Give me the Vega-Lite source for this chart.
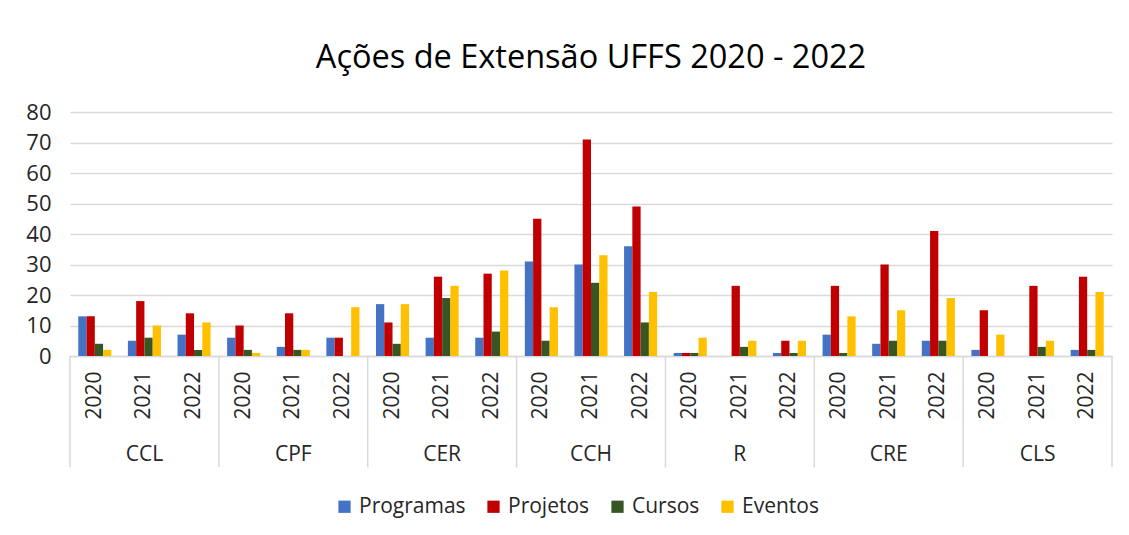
{
  "$schema": "https://vega.github.io/schema/vega-lite/v6.json",
  "padding": {"left": 25, "top": 41, "right": 10, "bottom": 5},
  "background": "#ffffff",
  "width": 1042,
  "height": 244,
  "data": {"values": [
    {"campus": "CCL", "ano": "2020", "serie": "Programas", "valor": 13},
    {"campus": "CCL", "ano": "2020", "serie": "Projetos", "valor": 13},
    {"campus": "CCL", "ano": "2020", "serie": "Cursos", "valor": 4},
    {"campus": "CCL", "ano": "2020", "serie": "Eventos", "valor": 2},
    {"campus": "CCL", "ano": "2021", "serie": "Programas", "valor": 5},
    {"campus": "CCL", "ano": "2021", "serie": "Projetos", "valor": 18},
    {"campus": "CCL", "ano": "2021", "serie": "Cursos", "valor": 6},
    {"campus": "CCL", "ano": "2021", "serie": "Eventos", "valor": 10},
    {"campus": "CCL", "ano": "2022", "serie": "Programas", "valor": 7},
    {"campus": "CCL", "ano": "2022", "serie": "Projetos", "valor": 14},
    {"campus": "CCL", "ano": "2022", "serie": "Cursos", "valor": 2},
    {"campus": "CCL", "ano": "2022", "serie": "Eventos", "valor": 11},
    {"campus": "CPF", "ano": "2020", "serie": "Programas", "valor": 6},
    {"campus": "CPF", "ano": "2020", "serie": "Projetos", "valor": 10},
    {"campus": "CPF", "ano": "2020", "serie": "Cursos", "valor": 2},
    {"campus": "CPF", "ano": "2020", "serie": "Eventos", "valor": 1},
    {"campus": "CPF", "ano": "2021", "serie": "Programas", "valor": 3},
    {"campus": "CPF", "ano": "2021", "serie": "Projetos", "valor": 14},
    {"campus": "CPF", "ano": "2021", "serie": "Cursos", "valor": 2},
    {"campus": "CPF", "ano": "2021", "serie": "Eventos", "valor": 2},
    {"campus": "CPF", "ano": "2022", "serie": "Programas", "valor": 6},
    {"campus": "CPF", "ano": "2022", "serie": "Projetos", "valor": 6},
    {"campus": "CPF", "ano": "2022", "serie": "Cursos", "valor": 0},
    {"campus": "CPF", "ano": "2022", "serie": "Eventos", "valor": 16},
    {"campus": "CER", "ano": "2020", "serie": "Programas", "valor": 17},
    {"campus": "CER", "ano": "2020", "serie": "Projetos", "valor": 11},
    {"campus": "CER", "ano": "2020", "serie": "Cursos", "valor": 4},
    {"campus": "CER", "ano": "2020", "serie": "Eventos", "valor": 17},
    {"campus": "CER", "ano": "2021", "serie": "Programas", "valor": 6},
    {"campus": "CER", "ano": "2021", "serie": "Projetos", "valor": 26},
    {"campus": "CER", "ano": "2021", "serie": "Cursos", "valor": 19},
    {"campus": "CER", "ano": "2021", "serie": "Eventos", "valor": 23},
    {"campus": "CER", "ano": "2022", "serie": "Programas", "valor": 6},
    {"campus": "CER", "ano": "2022", "serie": "Projetos", "valor": 27},
    {"campus": "CER", "ano": "2022", "serie": "Cursos", "valor": 8},
    {"campus": "CER", "ano": "2022", "serie": "Eventos", "valor": 28},
    {"campus": "CCH", "ano": "2020", "serie": "Programas", "valor": 31},
    {"campus": "CCH", "ano": "2020", "serie": "Projetos", "valor": 45},
    {"campus": "CCH", "ano": "2020", "serie": "Cursos", "valor": 5},
    {"campus": "CCH", "ano": "2020", "serie": "Eventos", "valor": 16},
    {"campus": "CCH", "ano": "2021", "serie": "Programas", "valor": 30},
    {"campus": "CCH", "ano": "2021", "serie": "Projetos", "valor": 71},
    {"campus": "CCH", "ano": "2021", "serie": "Cursos", "valor": 24},
    {"campus": "CCH", "ano": "2021", "serie": "Eventos", "valor": 33},
    {"campus": "CCH", "ano": "2022", "serie": "Programas", "valor": 36},
    {"campus": "CCH", "ano": "2022", "serie": "Projetos", "valor": 49},
    {"campus": "CCH", "ano": "2022", "serie": "Cursos", "valor": 11},
    {"campus": "CCH", "ano": "2022", "serie": "Eventos", "valor": 21},
    {"campus": "R", "ano": "2020", "serie": "Programas", "valor": 1},
    {"campus": "R", "ano": "2020", "serie": "Projetos", "valor": 1},
    {"campus": "R", "ano": "2020", "serie": "Cursos", "valor": 1},
    {"campus": "R", "ano": "2020", "serie": "Eventos", "valor": 6},
    {"campus": "R", "ano": "2021", "serie": "Programas", "valor": 0},
    {"campus": "R", "ano": "2021", "serie": "Projetos", "valor": 23},
    {"campus": "R", "ano": "2021", "serie": "Cursos", "valor": 3},
    {"campus": "R", "ano": "2021", "serie": "Eventos", "valor": 5},
    {"campus": "R", "ano": "2022", "serie": "Programas", "valor": 1},
    {"campus": "R", "ano": "2022", "serie": "Projetos", "valor": 5},
    {"campus": "R", "ano": "2022", "serie": "Cursos", "valor": 1},
    {"campus": "R", "ano": "2022", "serie": "Eventos", "valor": 5},
    {"campus": "CRE", "ano": "2020", "serie": "Programas", "valor": 7},
    {"campus": "CRE", "ano": "2020", "serie": "Projetos", "valor": 23},
    {"campus": "CRE", "ano": "2020", "serie": "Cursos", "valor": 1},
    {"campus": "CRE", "ano": "2020", "serie": "Eventos", "valor": 13},
    {"campus": "CRE", "ano": "2021", "serie": "Programas", "valor": 4},
    {"campus": "CRE", "ano": "2021", "serie": "Projetos", "valor": 30},
    {"campus": "CRE", "ano": "2021", "serie": "Cursos", "valor": 5},
    {"campus": "CRE", "ano": "2021", "serie": "Eventos", "valor": 15},
    {"campus": "CRE", "ano": "2022", "serie": "Programas", "valor": 5},
    {"campus": "CRE", "ano": "2022", "serie": "Projetos", "valor": 41},
    {"campus": "CRE", "ano": "2022", "serie": "Cursos", "valor": 5},
    {"campus": "CRE", "ano": "2022", "serie": "Eventos", "valor": 19},
    {"campus": "CLS", "ano": "2020", "serie": "Programas", "valor": 2},
    {"campus": "CLS", "ano": "2020", "serie": "Projetos", "valor": 15},
    {"campus": "CLS", "ano": "2020", "serie": "Cursos", "valor": 0},
    {"campus": "CLS", "ano": "2020", "serie": "Eventos", "valor": 7},
    {"campus": "CLS", "ano": "2021", "serie": "Programas", "valor": 0},
    {"campus": "CLS", "ano": "2021", "serie": "Projetos", "valor": 23},
    {"campus": "CLS", "ano": "2021", "serie": "Cursos", "valor": 3},
    {"campus": "CLS", "ano": "2021", "serie": "Eventos", "valor": 5},
    {"campus": "CLS", "ano": "2022", "serie": "Programas", "valor": 2},
    {"campus": "CLS", "ano": "2022", "serie": "Projetos", "valor": 26},
    {"campus": "CLS", "ano": "2022", "serie": "Cursos", "valor": 2},
    {"campus": "CLS", "ano": "2022", "serie": "Eventos", "valor": 21}
  ]},
  "transform": [{"calculate": "datum.campus + '|' + datum.ano", "as": "grupo"}],
  "title": {
    "text": "Ações de Extensão UFFS 2020 - 2022",
    "font": "Open Sans",
    "fontSize": 32.5,
    "fontWeight": "normal",
    "color": "#000000",
    "anchor": "middle",
    "offset": 27
  },
  "encoding": {
    "x": {
      "field": "grupo",
      "type": "nominal",
      "scale": {
        "domain": ["CCL|2020", "CCL|2021", "CCL|2022", "CPF|2020", "CPF|2021", "CPF|2022", "CER|2020", "CER|2021", "CER|2022", "CCH|2020", "CCH|2021", "CCH|2022", "R|2020", "R|2021", "R|2022", "CRE|2020", "CRE|2021", "CRE|2022", "CLS|2020", "CLS|2021", "CLS|2022"],
        "paddingInner": 0,
        "paddingOuter": 0
      },
      "axis": {
        "title": null,
        "labelExpr": "split(datum.label, '|')[1]",
        "labelAngle": 270,
        "labelFont": "Open Sans",
        "labelFontSize": 21,
        "labelColor": "#262626",
        "labelPadding": 15,
        "ticks": false,
        "tickSize": 0,
        "domainColor": "#d9d9d9",
        "domainWidth": 1.5
      }
    }
  },
  "layer": [
    {
      "mark": {"type": "bar"},
      "encoding": {
        "xOffset": {
          "field": "serie",
          "type": "nominal",
          "sort": ["Programas", "Projetos", "Cursos", "Eventos"],
          "scale": {"paddingInner": 0, "paddingOuter": 1.1}
        },
        "y": {
          "field": "valor",
          "type": "quantitative",
          "stack": null,
          "scale": {"domain": [0, 80], "nice": false},
          "axis": {
            "title": null,
            "values": [0, 10, 20, 30, 40, 50, 60, 70, 80],
            "labelOverlap": false,
            "labelFont": "Open Sans",
            "labelFontSize": 22,
            "labelColor": "#262626",
            "labelPadding": 19,
            "ticks": false,
            "tickSize": 0,
            "domain": false,
            "gridColor": "#d9d9d9",
            "gridWidth": 1.5
          }
        },
        "color": {
          "field": "serie",
          "type": "nominal",
          "scale": {
            "domain": ["Programas", "Projetos", "Cursos", "Eventos"],
            "range": ["#4472C4", "#C00000", "#375623", "#FFC000"]
          },
          "legend": {
            "title": null,
            "orient": "none",
            "legendX": 264,
            "legendY": 384,
            "direction": "horizontal",
            "symbolType": "square",
            "symbolSize": 150,
            "symbolStrokeWidth": 0,
            "labelFont": "Open Sans",
            "labelFontSize": 21,
            "labelColor": "#262626",
            "labelOffset": 4,
            "columnPadding": 17
          }
        }
      }
    },
    {
      "transform": [{"filter": "datum.ano == '2020' && datum.serie == 'Programas'"}],
      "mark": {"type": "rule", "color": "#d9d9d9", "strokeWidth": 1.5},
      "encoding": {
        "x": {"field": "grupo", "type": "nominal", "bandPosition": 0},
        "y": {
          "datum": 0,
          "type": "quantitative",
          "scale": {"domain": [0, 80], "nice": false},
          "axis": {
            "title": null,
            "values": [0, 10, 20, 30, 40, 50, 60, 70, 80],
            "labelOverlap": false,
            "labelFont": "Open Sans",
            "labelFontSize": 22,
            "labelColor": "#262626",
            "labelPadding": 19,
            "ticks": false,
            "tickSize": 0,
            "domain": false,
            "gridColor": "#d9d9d9",
            "gridWidth": 1.5
          }
        },
        "y2": {"datum": -36.5}
      }
    },
    {
      "transform": [{"filter": "datum.ano == '2022' && datum.serie == 'Programas' && datum.campus == 'CLS'"}],
      "mark": {"type": "rule", "color": "#d9d9d9", "strokeWidth": 1.5},
      "encoding": {
        "x": {"field": "grupo", "type": "nominal", "bandPosition": 1},
        "y": {
          "datum": 0,
          "type": "quantitative",
          "scale": {"domain": [0, 80], "nice": false},
          "axis": {
            "title": null,
            "values": [0, 10, 20, 30, 40, 50, 60, 70, 80],
            "labelOverlap": false,
            "labelFont": "Open Sans",
            "labelFontSize": 22,
            "labelColor": "#262626",
            "labelPadding": 19,
            "ticks": false,
            "tickSize": 0,
            "domain": false,
            "gridColor": "#d9d9d9",
            "gridWidth": 1.5
          }
        },
        "y2": {"datum": -36.5}
      }
    },
    {
      "transform": [{"filter": "datum.ano == '2021' && datum.serie == 'Programas'"}],
      "mark": {"type": "text", "font": "Open Sans", "fontSize": 21, "color": "#262626", "baseline": "middle", "align": "center"},
      "encoding": {
        "x": {"field": "grupo", "type": "nominal"},
        "y": {
          "datum": -32.5,
          "type": "quantitative",
          "scale": {"domain": [0, 80], "nice": false},
          "axis": {
            "title": null,
            "values": [0, 10, 20, 30, 40, 50, 60, 70, 80],
            "labelOverlap": false,
            "labelFont": "Open Sans",
            "labelFontSize": 22,
            "labelColor": "#262626",
            "labelPadding": 19,
            "ticks": false,
            "tickSize": 0,
            "domain": false,
            "gridColor": "#d9d9d9",
            "gridWidth": 1.5
          }
        },
        "text": {"field": "campus", "type": "nominal"}
      }
    }
  ],
  "config": {
    "view": {"stroke": null},
    "font": "Open Sans"
  }
}
